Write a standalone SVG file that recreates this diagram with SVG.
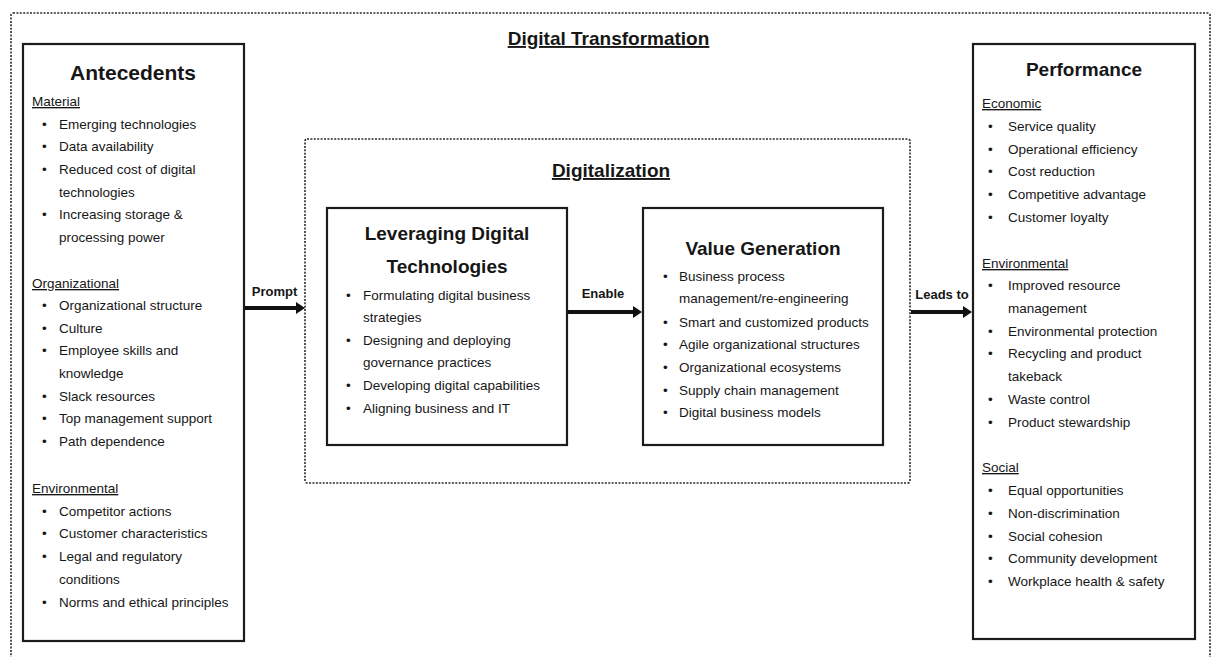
<svg xmlns="http://www.w3.org/2000/svg" width="1218" height="657" viewBox="0 0 1218 657">
  <style>
    .frame { fill: none; stroke: #2a2a2a; stroke-width: 1.6; stroke-dasharray: 2 1.4; }
    .box { fill: #ffffff; stroke: #1c1c1c; stroke-width: 2.2; }
    text { font-family: "Liberation Sans", Arial, sans-serif; fill: #161616; }
    .title { font-size: 19px; font-weight: bold; text-anchor: middle; }
    .big { font-size: 21px; }
    .ul { text-decoration: underline; }
    .item { font-size: 13.5px; }
    .lbl { font-size: 13px; font-weight: bold; text-anchor: middle; }
    .conn { stroke: #111111; stroke-width: 4; fill: none; }
    .head { fill: #111111; }
  </style>
  <defs>
    <!-- arrowhead starts at the line end and points 9px further -->
    <marker id="arrow" viewBox="0 0 9 12" refX="0" refY="6" markerWidth="9" markerHeight="12" orient="auto" markerUnits="userSpaceOnUse" preserveAspectRatio="none">
      <path d="M0,0 L9,6 L0,12 Z" class="head"/>
    </marker>
  </defs>

  <rect width="1218" height="657" fill="#ffffff"/>

  <!-- outer frame: digital transformation -->
  <g id="digital-transformation">
    <rect class="frame" x="11" y="13" width="1199" height="660" rx="2"/>
    <text class="title ul" x="608.5" y="45">Digital Transformation</text>
  </g>

  <!-- digitalization frame -->
  <g id="digitalization">
    <rect class="frame" x="305" y="139" width="605" height="344" rx="2"/>
    <text class="title ul" x="611" y="177">Digitalization</text>
  </g>

  <!-- antecedents -->
  <g id="antecedents">
    <rect class="box" x="23" y="44" width="221" height="597"/>
    <text class="title big" x="133" y="80">Antecedents</text>
    <text class="item ul" x="32" y="106">Material</text>
    <g class="item">
      <text class="item" x="42" y="129">•</text><text class="item" x="59" y="129">Emerging technologies</text>
      <text class="item" x="42" y="151">•</text><text class="item" x="59" y="151">Data availability</text>
      <text class="item" x="42" y="174">•</text><text class="item" x="59" y="174">Reduced cost of digital</text>
      <text class="item" x="59" y="197">technologies</text>
      <text class="item" x="42" y="219">•</text><text class="item" x="59" y="219">Increasing storage &amp;</text>
      <text class="item" x="59" y="242">processing power</text>
    </g>
    <text class="item ul" x="32" y="288">Organizational</text>
    <g class="item">
      <text class="item" x="42" y="310">•</text><text class="item" x="59" y="310">Organizational structure</text>
      <text class="item" x="42" y="333">•</text><text class="item" x="59" y="333">Culture</text>
      <text class="item" x="42" y="355">•</text><text class="item" x="59" y="355">Employee skills and</text>
      <text class="item" x="59" y="378">knowledge</text>
      <text class="item" x="42" y="401">•</text><text class="item" x="59" y="401">Slack resources</text>
      <text class="item" x="42" y="423">•</text><text class="item" x="59" y="423">Top management support</text>
      <text class="item" x="42" y="446">•</text><text class="item" x="59" y="446">Path dependence</text>
    </g>
    <text class="item ul" x="32" y="493">Environmental</text>
    <g class="item">
      <text class="item" x="42" y="516">•</text><text class="item" x="59" y="516">Competitor actions</text>
      <text class="item" x="42" y="538">•</text><text class="item" x="59" y="538">Customer characteristics</text>
      <text class="item" x="42" y="561">•</text><text class="item" x="59" y="561">Legal and regulatory</text>
      <text class="item" x="59" y="584">conditions</text>
      <text class="item" x="42" y="607">•</text><text class="item" x="59" y="607">Norms and ethical principles</text>
    </g>
  </g>

  <!-- leveraging digital technologies -->
  <g id="leveraging">
    <rect class="box" x="327" y="208" width="240" height="237"/>
    <text class="title" x="447" y="240">Leveraging Digital</text>
    <text class="title" x="447" y="273">Technologies</text>
    <text class="item" x="346" y="300">•</text><text class="item" x="363" y="300">Formulating digital business</text>
    <text class="item" x="363" y="322">strategies</text>
    <text class="item" x="346" y="345">•</text><text class="item" x="363" y="345">Designing and deploying</text>
    <text class="item" x="363" y="367">governance practices</text>
    <text class="item" x="346" y="390">•</text><text class="item" x="363" y="390">Developing digital capabilities</text>
    <text class="item" x="346" y="413">•</text><text class="item" x="363" y="413">Aligning business and IT</text>
  </g>

  <!-- value generation -->
  <g id="value-generation">
    <rect class="box" x="643" y="208" width="240" height="237"/>
    <text class="title" x="763" y="255">Value Generation</text>
    <text class="item" x="663" y="281">•</text><text class="item" x="679" y="281">Business process</text>
    <text class="item" x="679" y="303">management/re-engineering</text>
    <text class="item" x="663" y="327">•</text><text class="item" x="679" y="327">Smart and customized products</text>
    <text class="item" x="663" y="349">•</text><text class="item" x="679" y="349">Agile organizational structures</text>
    <text class="item" x="663" y="372">•</text><text class="item" x="679" y="372">Organizational ecosystems</text>
    <text class="item" x="663" y="395">•</text><text class="item" x="679" y="395">Supply chain management</text>
    <text class="item" x="663" y="417">•</text><text class="item" x="679" y="417">Digital business models</text>
  </g>

  <!-- performance -->
  <g id="performance">
    <rect class="box" x="973" y="44" width="222" height="595"/>
    <text class="title" x="1084" y="76">Performance</text>
    <text class="item ul" x="982" y="108">Economic</text>
    <text class="item" x="988" y="131">•</text><text class="item" x="1008" y="131">Service quality</text>
    <text class="item" x="988" y="154">•</text><text class="item" x="1008" y="154">Operational efficiency</text>
    <text class="item" x="988" y="176">•</text><text class="item" x="1008" y="176">Cost reduction</text>
    <text class="item" x="988" y="199">•</text><text class="item" x="1008" y="199">Competitive advantage</text>
    <text class="item" x="988" y="222">•</text><text class="item" x="1008" y="222">Customer loyalty</text>
    <text class="item ul" x="982" y="268">Environmental</text>
    <text class="item" x="988" y="290">•</text><text class="item" x="1008" y="290">Improved resource</text>
    <text class="item" x="1008" y="313">management</text>
    <text class="item" x="988" y="336">•</text><text class="item" x="1008" y="336">Environmental protection</text>
    <text class="item" x="988" y="358">•</text><text class="item" x="1008" y="358">Recycling and product</text>
    <text class="item" x="1008" y="381">takeback</text>
    <text class="item" x="988" y="404">•</text><text class="item" x="1008" y="404">Waste control</text>
    <text class="item" x="988" y="427">•</text><text class="item" x="1008" y="427">Product stewardship</text>
    <text class="item ul" x="982" y="472">Social</text>
    <text class="item" x="988" y="495">•</text><text class="item" x="1008" y="495">Equal opportunities</text>
    <text class="item" x="988" y="518">•</text><text class="item" x="1008" y="518">Non-discrimination</text>
    <text class="item" x="988" y="541">•</text><text class="item" x="1008" y="541">Social cohesion</text>
    <text class="item" x="988" y="563">•</text><text class="item" x="1008" y="563">Community development</text>
    <text class="item" x="988" y="586">•</text><text class="item" x="1008" y="586">Workplace health &amp; safety</text>
  </g>

  <!-- connectors -->
  <g id="connectors">
    <line class="conn" x1="245" y1="308" x2="296" y2="308" marker-end="url(#arrow)"/>
    <text class="lbl" x="274.5" y="296">Prompt</text>
    <line class="conn" x1="568" y1="312" x2="633" y2="312" marker-end="url(#arrow)"/>
    <text class="lbl" x="603" y="298">Enable</text>
    <line class="conn" x1="911" y1="312" x2="963" y2="312" marker-end="url(#arrow)"/>
    <text class="lbl" x="942" y="299">Leads to</text>
  </g>
</svg>
